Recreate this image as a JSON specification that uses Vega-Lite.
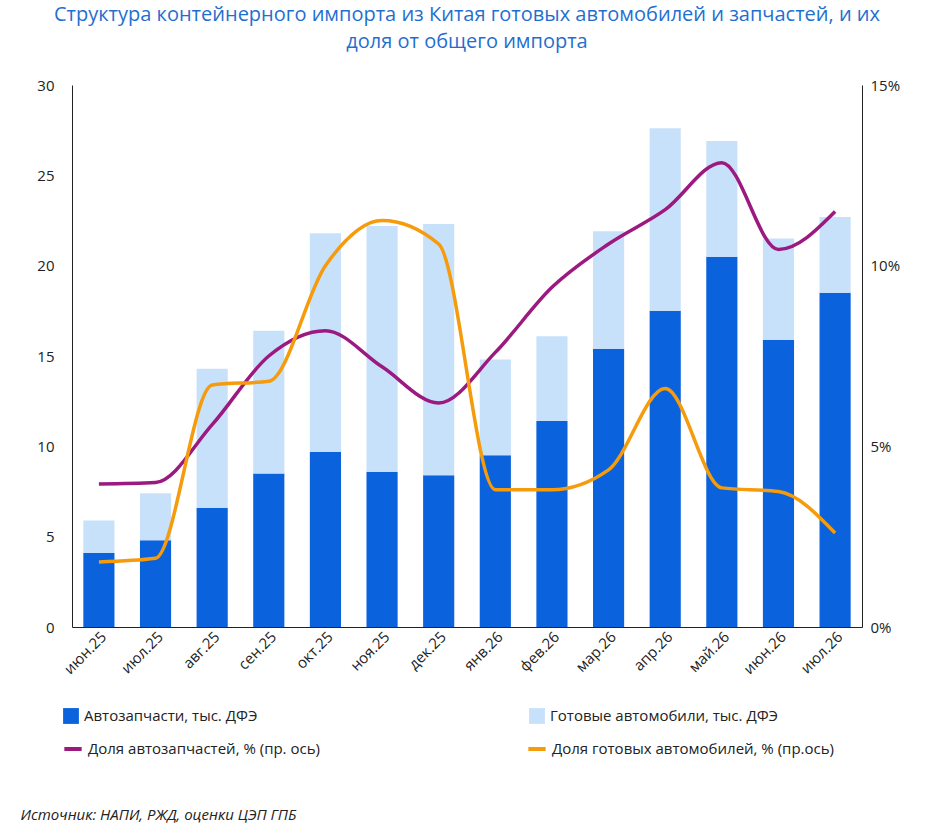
{
  "$schema": "https://vega.github.io/schema/vega-lite/v6.json",
  "width": 790,
  "height": 542,
  "padding": {"left": 20, "top": 5, "right": 20, "bottom": 5},
  "title": {
    "text": ["Структура контейнерного импорта из Китая готовых автомобилей и запчастей, и их", "доля от общего импорта"],
    "color": "#1f6fd0", "fontSize": 20, "lineHeight": 27, "fontWeight": "normal", "font": "Open Sans", "offset": 26
  },
  "config": {"font": "Open Sans", "view": {"stroke": null},
    "axis": {"labelFontSize": 15, "labelColor": "#222", "grid": false, "domainColor": "#222", "tickColor": "#222"}},
  "data": {"values": [
    {"m": "июн.25", "parts": 4.1, "cars": 1.8, "parts_share": 3.96, "cars_share": 1.8},
    {"m": "июл.25", "parts": 4.8, "cars": 2.6, "parts_share": 4.0, "cars_share": 1.9},
    {"m": "авг.25", "parts": 6.6, "cars": 7.7, "parts_share": 5.6, "cars_share": 6.7},
    {"m": "сен.25", "parts": 8.5, "cars": 7.9, "parts_share": 7.5, "cars_share": 6.8},
    {"m": "окт.25", "parts": 9.7, "cars": 12.1, "parts_share": 8.2, "cars_share": 10.0},
    {"m": "ноя.25", "parts": 8.6, "cars": 13.6, "parts_share": 7.2, "cars_share": 11.25},
    {"m": "дек.25", "parts": 8.4, "cars": 13.9, "parts_share": 6.2, "cars_share": 10.6},
    {"m": "янв.26", "parts": 9.5, "cars": 5.3, "parts_share": 7.6, "cars_share": 3.8},
    {"m": "фев.26", "parts": 11.4, "cars": 4.7, "parts_share": 9.4, "cars_share": 3.8},
    {"m": "мар.26", "parts": 15.4, "cars": 6.5, "parts_share": 10.6, "cars_share": 4.35},
    {"m": "апр.26", "parts": 17.5, "cars": 10.1, "parts_share": 11.55, "cars_share": 6.6},
    {"m": "май.26", "parts": 20.5, "cars": 6.4, "parts_share": 12.85, "cars_share": 3.85},
    {"m": "июн.26", "parts": 15.9, "cars": 5.6, "parts_share": 10.45, "cars_share": 3.75},
    {"m": "июл.26", "parts": 18.5, "cars": 4.2, "parts_share": 11.5, "cars_share": 2.6}
  ]},
  "encoding": {
    "x": {"field": "m", "type": "ordinal", "sort": null, "scale": {"paddingInner": 0.45, "paddingOuter": 0.2},
      "axis": {"labelAngle": -45, "ticks": false, "title": "Источник: НАПИ, РЖД, оценки ЦЭП ГПБ", "titleFontStyle": "italic", "titleFontWeight": "normal", "titleFontSize": 15, "titleColor": "#222", "titleAnchor": "start", "titleX": -52, "titleY": 180}}
  },
  "layer": [
    {
      "transform": [{"fold": ["parts", "cars"], "as": ["s", "v"]}],
      "mark": {"type": "bar"},
      "encoding": {
        "y": {"field": "v", "type": "quantitative", "stack": "zero", "scale": {"domain": [0, 30]},
          "axis": {"values": [0, 5, 10, 15, 20, 25, 30], "title": null, "ticks": false, "labelPadding": 18}},
        "fill": {"field": "s", "type": "nominal", "scale": {"domain": ["parts", "cars"], "range": ["#0a62dc", "#c8e1fa"]},
          "legend": {"orient": "none", "legendX": -10, "legendY": 622, "direction": "horizontal", "columns": 2, "columnPadding": 270, "title": null, "labelFontSize": 15, "labelColor": "#222", "symbolType": "square", "symbolSize": 250, "labelLimit": 400,
            "labelExpr": "datum.label == 'parts' ? 'Автозапчасти, тыс. ДФЭ' : 'Готовые автомобили, тыс. ДФЭ'"}},
        "order": {"field": "s", "sort": "descending"}
      }
    },
    {
      "transform": [{"fold": ["parts_share", "cars_share"], "as": ["s2", "p"]}],
      "mark": {"type": "line", "interpolate": "monotone", "strokeWidth": 3.5},
      "encoding": {
        "y": {"field": "p", "type": "quantitative", "scale": {"domain": [0, 15]},
          "axis": {"orient": "right", "values": [0, 5, 10, 15], "labelExpr": "datum.value + '%'", "title": null, "ticks": false, "labelPadding": 8}},
        "stroke": {"field": "s2", "type": "nominal", "scale": {"domain": ["parts_share", "cars_share"], "range": ["#9c1a80", "#f59b0c"]},
          "legend": {"orient": "none", "legendX": -10, "legendY": 653, "direction": "horizontal", "columns": 2, "columnPadding": 200, "title": null, "labelFontSize": 15, "labelColor": "#222", "symbolType": "stroke", "symbolStrokeWidth": 4, "symbolSize": 300, "labelLimit": 400,
            "labelExpr": "datum.label == 'parts_share' ? 'Доля автозапчастей, % (пр. ось)' : 'Доля готовых автомобилей, % (пр.ось)'"}},
        "detail": {"field": "s2"}
      }
    }
  ],
  "resolve": {"scale": {"y": "independent"}}
}
